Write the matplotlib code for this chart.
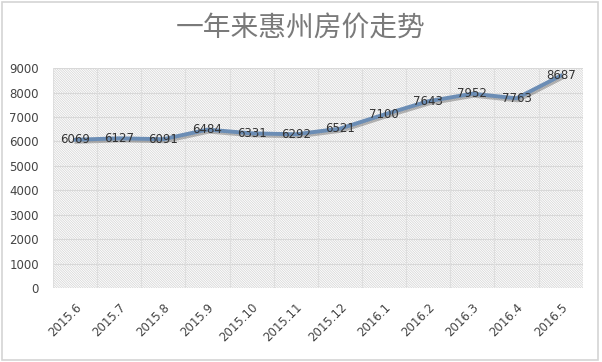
import matplotlib
matplotlib.use("Agg")
import matplotlib.pyplot as plt
import matplotlib.patheffects as pe
from matplotlib.patches import Rectangle

plt.rcParams["font.family"] = ["Noto Sans CJK SC", "DejaVu Sans"]
plt.rcParams["hatch.linewidth"] = 0.5

# datos
meses = ["2015.6", "2015.7", "2015.8", "2015.9", "2015.10", "2015.11",
         "2015.12", "2016.1", "2016.2", "2016.3", "2016.4", "2016.5"]
precios = [6069, 6127, 6091, 6484, 6331, 6292, 6521, 7100, 7643, 7952, 7763, 8687]
yticks = [0, 1000, 2000, 3000, 4000, 5000, 6000, 7000, 8000, 9000]
titulo = "一年来惠州房价走势"

fig = plt.figure(figsize=(6.02, 3.62), dpi=100)
fig.patch.set_facecolor("white")
fig.patches.append(Rectangle((0.004, 0.006), 0.99, 0.988, transform=fig.transFigure,
                             fill=False, edgecolor="#d4d4d4", lw=1.2))

ax = fig.add_axes([0.088, 0.204, 0.88, 0.608])
ax.set_facecolor("white")
x = list(range(len(meses)))

# fondo rayado fino
fondo = Rectangle((0, 0), 1, 1, transform=ax.transAxes, facecolor="white",
                  edgecolor="#d2d2d2", hatch="\\" * 14, lw=0, zorder=0)
ax.add_patch(fondo)

for y in yticks:
    ax.axhline(y, color="#d8d8d8", lw=0.8, zorder=1)
for i in range(len(meses) + 1):
    ax.axvline(i - 0.5, color="#dedede", lw=0.8, zorder=1)

ax.plot(x, precios, color="#6b8db5", lw=2.8, zorder=3,
        path_effects=[pe.SimpleLineShadow(offset=(1, -1.5), shadow_color="#555555", alpha=0.4),
                      pe.Normal()])

for xi, v in zip(x, precios):
    ax.text(xi, v, str(v), ha="center", va="center", fontsize=8.5,
            color="#333333", zorder=4, family="DejaVu Sans")

ax.set_xlim(-0.5, len(meses) - 0.5)
ax.set_ylim(0, 9000)
ax.set_yticks(yticks)
ax.set_yticklabels([str(t) for t in yticks], family="DejaVu Sans")
ax.set_xticks(x)
ax.set_xticklabels(meses, rotation=45, ha="right", rotation_mode="anchor",
                   family="DejaVu Sans")
ax.tick_params(axis="both", length=0, labelsize=8.5, colors="#444444")
ax.tick_params(axis="y", pad=10)
ax.tick_params(axis="x", pad=9)
for s in ax.spines.values():
    s.set_visible(False)

fig.text(0.5, 0.922, titulo, ha="center", va="center", fontsize=20, color="#7a7a7a")

fig.savefig("out.png", dpi=100)
